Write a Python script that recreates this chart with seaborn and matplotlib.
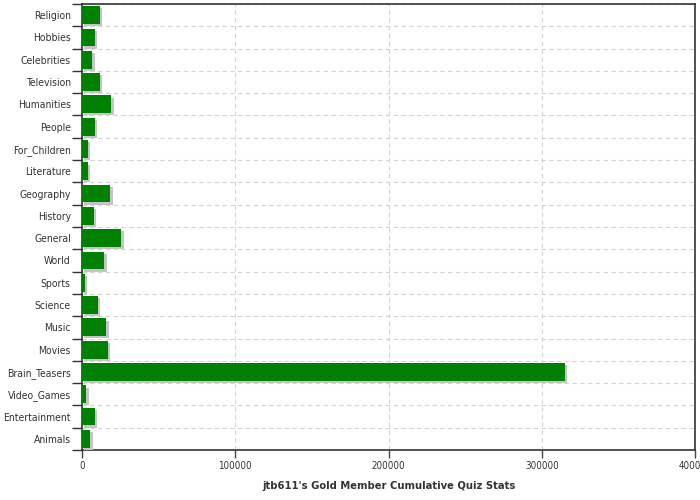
import matplotlib
matplotlib.use("Agg")
import matplotlib.pyplot as plt
import matplotlib.patheffects as pe
from matplotlib import font_manager
import numpy as np
import pandas as pd
import seaborn as sns

categories = ["Religion", "Hobbies", "Celebrities", "Television", "Humanities",
              "People", "For_Children", "Literature", "Geography", "History",
              "General", "World", "Sports", "Science", "Music", "Movies",
              "Brain_Teasers", "Video_Games", "Entertainment", "Animals"]
scores = [11500, 8300, 6900, 11500, 19300, 8300, 3700, 3700, 18600, 7600,
          25800, 14700, 1700, 10200, 16000, 16700, 315300, 3000, 8300, 5600]
x_ticks = [0, 100000, 200000, 300000, 400000]
title = "jtb611's Gold Member Cumulative Quiz Stats"

df = pd.DataFrame({"category": categories, "score": scores})

sns.set_style("white")

# look for a narrow face, the original uses a condensed sans
names = {f.name for f in font_manager.fontManager.ttflist}
cond = [f for f in font_manager.fontManager.ttflist
        if f.name == "DejaVu Sans" and "ondensed" in str(f.stretch)]
if "Liberation Sans Narrow" in names:
    fam, stretch, lab_size = "Liberation Sans Narrow", "normal", 8
elif cond:
    fam, stretch, lab_size = "DejaVu Sans", "condensed", 7.5
else:
    fam, stretch, lab_size = "DejaVu Sans", "normal", 6.6
plt.rcParams["font.family"] = [fam, "DejaVu Sans"]
plt.rcParams["font.stretch"] = stretch

fig = plt.figure(figsize=(7, 5), dpi=100)
ax = fig.add_axes([0.117, 0.1, 0.876, 0.892])

sns.barplot(data=df, y="category", x="score", orient="h", color="#008000",
            saturation=1, width=0.8, ax=ax, zorder=3)

# light gray drop shadow behind each bar
for bar in ax.patches:
    bar.set_path_effects([pe.SimplePatchShadow(offset=(1.6, -1.6), shadow_rgbFace="#c4c4c4", alpha=1),
                          pe.Normal()])
    bar.set_edgecolor("none")

n = len(categories)
ax.set_xlim(x_ticks[0], x_ticks[-1])
ax.set_ylim(n - 0.5, -0.5)

ax.set_xticks(x_ticks)
ax.set_xticklabels([str(t) for t in x_ticks])
ax.set_yticks(np.arange(n))
ax.set_yticklabels(categories)
ax.set_yticks(np.arange(n + 1) - 0.5, minor=True)

ax.tick_params(axis="y", which="major", left=True, length=0, pad=8,
               labelsize=lab_size, labelcolor="#333333")
ax.tick_params(axis="y", which="minor", left=True, length=7, width=1, color="#333333")
ax.tick_params(axis="x", which="major", bottom=True, length=6, width=1, color="#444444", pad=2,
               labelsize=lab_size - 0.5, labelcolor="#333333")

ax.grid(False)
ax.grid(axis="x", which="major", linestyle=(0, (4, 3)), color="#d3d3d3", linewidth=0.8, zorder=0)
ax.grid(axis="y", which="minor", linestyle=(0, (4, 3)), color="#cfd6d9", linewidth=0.8, zorder=0)
ax.set_axisbelow(True)

for side in ["left", "bottom", "top", "right"]:
    ax.spines[side].set_visible(True)
    ax.spines[side].set_color("#333333")
    ax.spines[side].set_linewidth(1.2)

ax.set_ylabel("")
ax.set_xlabel(title, fontsize=lab_size + 0.5, fontweight="bold", color="#333333", labelpad=7)

fig.savefig("out.png", dpi=100)
